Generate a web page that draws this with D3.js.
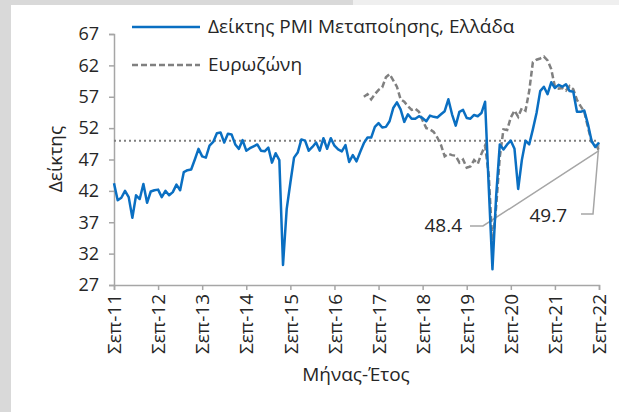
<!DOCTYPE html>
<html>
<head>
<meta charset="utf-8">
<script src="https://cdn.jsdelivr.net/npm/d3@7"></script>
<style>
  body { margin: 0; background: #fff; }
  text { font-family: "Open Sans", "Noto Sans", sans-serif; fill: #262626; }
</style>
</head>
<body>
<svg width="619" height="412"></svg>
<script>
// Greek manufacturing PMI vs Eurozone, monthly Sep-2011 .. Sep-2022

// month labels on the x axis (one tick every September)
var tickLabels = ["Σεπ-11", "Σεπ-12", "Σεπ-13", "Σεπ-14", "Σεπ-15", "Σεπ-16",
  "Σεπ-17", "Σεπ-18", "Σεπ-19", "Σεπ-20", "Σεπ-21", "Σεπ-22"];

var yTicks = [27, 32, 37, 42, 47, 52, 57, 62, 67];

// Greece, starts Sep 2011
var greece = [
  43.2, 40.5, 40.9, 42.0,
  41.0, 37.7, 41.3, 40.7, 43.1, 40.1, 41.9, 42.1, 42.2, 41.0, 42.0, 41.3,
  41.8, 43.0, 42.1, 45.0, 45.3, 45.4, 47.0, 48.7, 47.5, 47.3, 49.2, 49.8,
  51.2, 51.3, 49.7, 51.1, 51.0, 49.4, 48.7, 50.1, 48.4, 48.8, 49.1, 49.4,
  48.4, 48.3, 48.9, 46.5, 48.0, 46.9, 30.2, 39.1, 43.3, 47.3, 48.1, 50.2,
  50.0, 48.4, 49.0, 49.7, 48.4, 50.4, 48.7, 50.4, 49.2, 48.6, 48.3, 49.3,
  46.6, 47.7, 46.7, 48.2, 49.6, 50.5, 50.5, 52.2, 52.8, 52.1, 52.2, 53.1,
  55.2, 56.1, 55.0, 53.0, 54.2, 53.5, 53.5, 53.9, 53.6, 53.1, 54.0, 53.8,
  53.7, 54.2, 54.7, 56.6, 54.2, 52.4, 54.6, 54.9, 53.6, 53.5, 54.1, 53.9,
  54.4, 56.2, 42.5, 29.5, 41.1, 49.4, 48.6, 49.4, 50.0, 48.7, 42.3, 46.9,
  50.0, 49.4, 51.8, 54.4, 57.9, 58.6, 57.4, 59.3, 58.4, 58.9, 58.6, 59.0,
  57.9, 57.8, 54.6, 54.6, 54.8, 52.6, 49.9, 49.0, 49.7
];

// Eurozone, starts May 2017 (month index 68)
var euroStart = 68;
var eurozone = [
  57.0, 57.4, 56.6, 57.4, 58.1, 58.5, 60.1, 60.6,
  59.6, 58.6, 56.6, 56.2, 55.5, 54.9, 55.1, 54.6, 53.2, 52.0, 51.8, 51.4,
  50.5, 49.3, 47.5, 47.9, 47.7, 47.6, 46.5, 47.0, 45.7, 45.9, 46.9, 46.3,
  47.9, 49.2, 44.5, 33.4, 39.4, 47.4, 51.8, 51.7, 53.7, 54.8, 53.8, 55.2,
  54.8, 57.9, 62.5, 62.9, 63.1, 63.4, 62.8, 61.4, 58.6, 58.3, 58.4, 58.0,
  58.7, 58.2, 56.5, 55.5, 54.6, 52.1, 49.8, 49.6, 48.4
];

var seriesNames = ["Δείκτης PMI Μεταποίησης, Ελλάδα", "Ευρωζώνη"];
var threshold = 50;

var svg = d3.select("svg"),
  width = +svg.attr("width"),
  height = +svg.attr("height"),
  blue = "#0a6fc2",
  grey = "#808080",
  axisGrey = "#a6a6a6";

// page frame: grey strips on the left and top
svg.append("rect").attr("x", 0).attr("y", 0).attr("width", 11).attr("height", height).attr("fill", "#d9d9d9");
svg.append("rect").attr("x", 0).attr("y", 0).attr("width", 353).attr("height", 5).attr("fill", "#d9d9d9");
svg.append("rect").attr("x", 353).attr("y", 0).attr("width", width - 353).attr("height", 5).attr("fill", "#efefef");

var x = d3.scaleLinear().domain([0, greece.length - 1]).range([114, 599]);
var y = d3.scaleLinear().domain([27, 67]).range([285, 34]);

// y axis
var yAxis = svg.append("g")
  .attr("transform", "translate(114,0)")
  .call(d3.axisLeft(y).tickValues(yTicks).tickSize(5).tickPadding(10));

// x axis: tick each September
var xAxis = svg.append("g")
  .attr("transform", "translate(0,285)")
  .call(d3.axisBottom(x)
    .tickValues(tickLabels.map(function (d, i) { return i * 12; }))
    .tickFormat(function (d) { return tickLabels[d / 12]; })
    .tickSize(5));

[yAxis, xAxis].forEach(function (a) {
  a.selectAll("path").attr("stroke", axisGrey).attr("stroke-width", 1.5);
  a.selectAll("line").attr("stroke", axisGrey).attr("stroke-width", 1.5);
  a.selectAll("text").style("font-size", "18px").attr("fill", "#262626");
});

xAxis.selectAll("text")
  .style("font-size", "19px")
  .attr("transform", "rotate(-90)")
  .attr("text-anchor", "end")
  .attr("x", -9)
  .attr("y", 0)
  .attr("dy", "0.35em");

// 50 threshold line
svg.append("line")
  .attr("x1", x(0)).attr("x2", x(greece.length - 1))
  .attr("y1", y(threshold)).attr("y2", y(threshold))
  .attr("stroke", grey)
  .attr("stroke-width", 2)
  .attr("stroke-dasharray", "2,3");

var line = d3.line()
  .x(function (d) { return x(d[0]); })
  .y(function (d) { return y(d[1]); });

// leader lines for the end labels (drawn below the series)
var lastK = greece.length - 1;
svg.append("polyline")
  .attr("points", [[470, 226], [483, 226], [x(lastK), y(eurozone[eurozone.length - 1])]].join(" "))
  .attr("fill", "none").attr("stroke", axisGrey).attr("stroke-width", 1.5);
svg.append("polyline")
  .attr("points", [[581, 214], [593, 214], [x(lastK), y(greece[lastK])]].join(" "))
  .attr("fill", "none").attr("stroke", axisGrey).attr("stroke-width", 1.5);

// Eurozone dashed
svg.append("path")
  .datum(eurozone.map(function (v, i) { return [euroStart + i, v]; }))
  .attr("d", line)
  .attr("fill", "none")
  .attr("stroke", grey)
  .attr("stroke-width", 2.5)
  .attr("stroke-dasharray", "6,3");

// Greece solid blue
svg.append("path")
  .datum(greece.map(function (v, i) { return [i, v]; }))
  .attr("d", line)
  .attr("fill", "none")
  .attr("stroke", blue)
  .attr("stroke-width", 2.5)
  .attr("stroke-linejoin", "round");

// end value labels
svg.append("text").attr("x", 462).attr("y", 232).attr("text-anchor", "end")
  .style("font-size", "19px").text(eurozone[eurozone.length - 1].toFixed(1));
svg.append("text").attr("x", 567).attr("y", 222).attr("text-anchor", "end")
  .style("font-size", "19px").text(greece[lastK].toFixed(1));

// legend
var legend = svg.append("g");
legend.append("line").attr("x1", 132).attr("x2", 200).attr("y1", 27).attr("y2", 27)
  .attr("stroke", blue).attr("stroke-width", 2.5);
legend.append("text").attr("x", 208).attr("y", 33).style("font-size", "19px").text(seriesNames[0]);
legend.append("line").attr("x1", 132).attr("x2", 200).attr("y1", 65).attr("y2", 65)
  .attr("stroke", grey).attr("stroke-width", 2.5).attr("stroke-dasharray", "6,3");
legend.append("text").attr("x", 208).attr("y", 71).style("font-size", "19px").text(seriesNames[1]);

// axis titles
svg.append("text")
  .attr("transform", "translate(62,159) rotate(-90)")
  .attr("text-anchor", "middle")
  .style("font-size", "19px")
  .text("Δείκτης");
svg.append("text")
  .attr("x", 356).attr("y", 381)
  .attr("text-anchor", "middle")
  .style("font-size", "19px")
  .text("Μήνας-Έτος");
</script>
</body>
</html>
